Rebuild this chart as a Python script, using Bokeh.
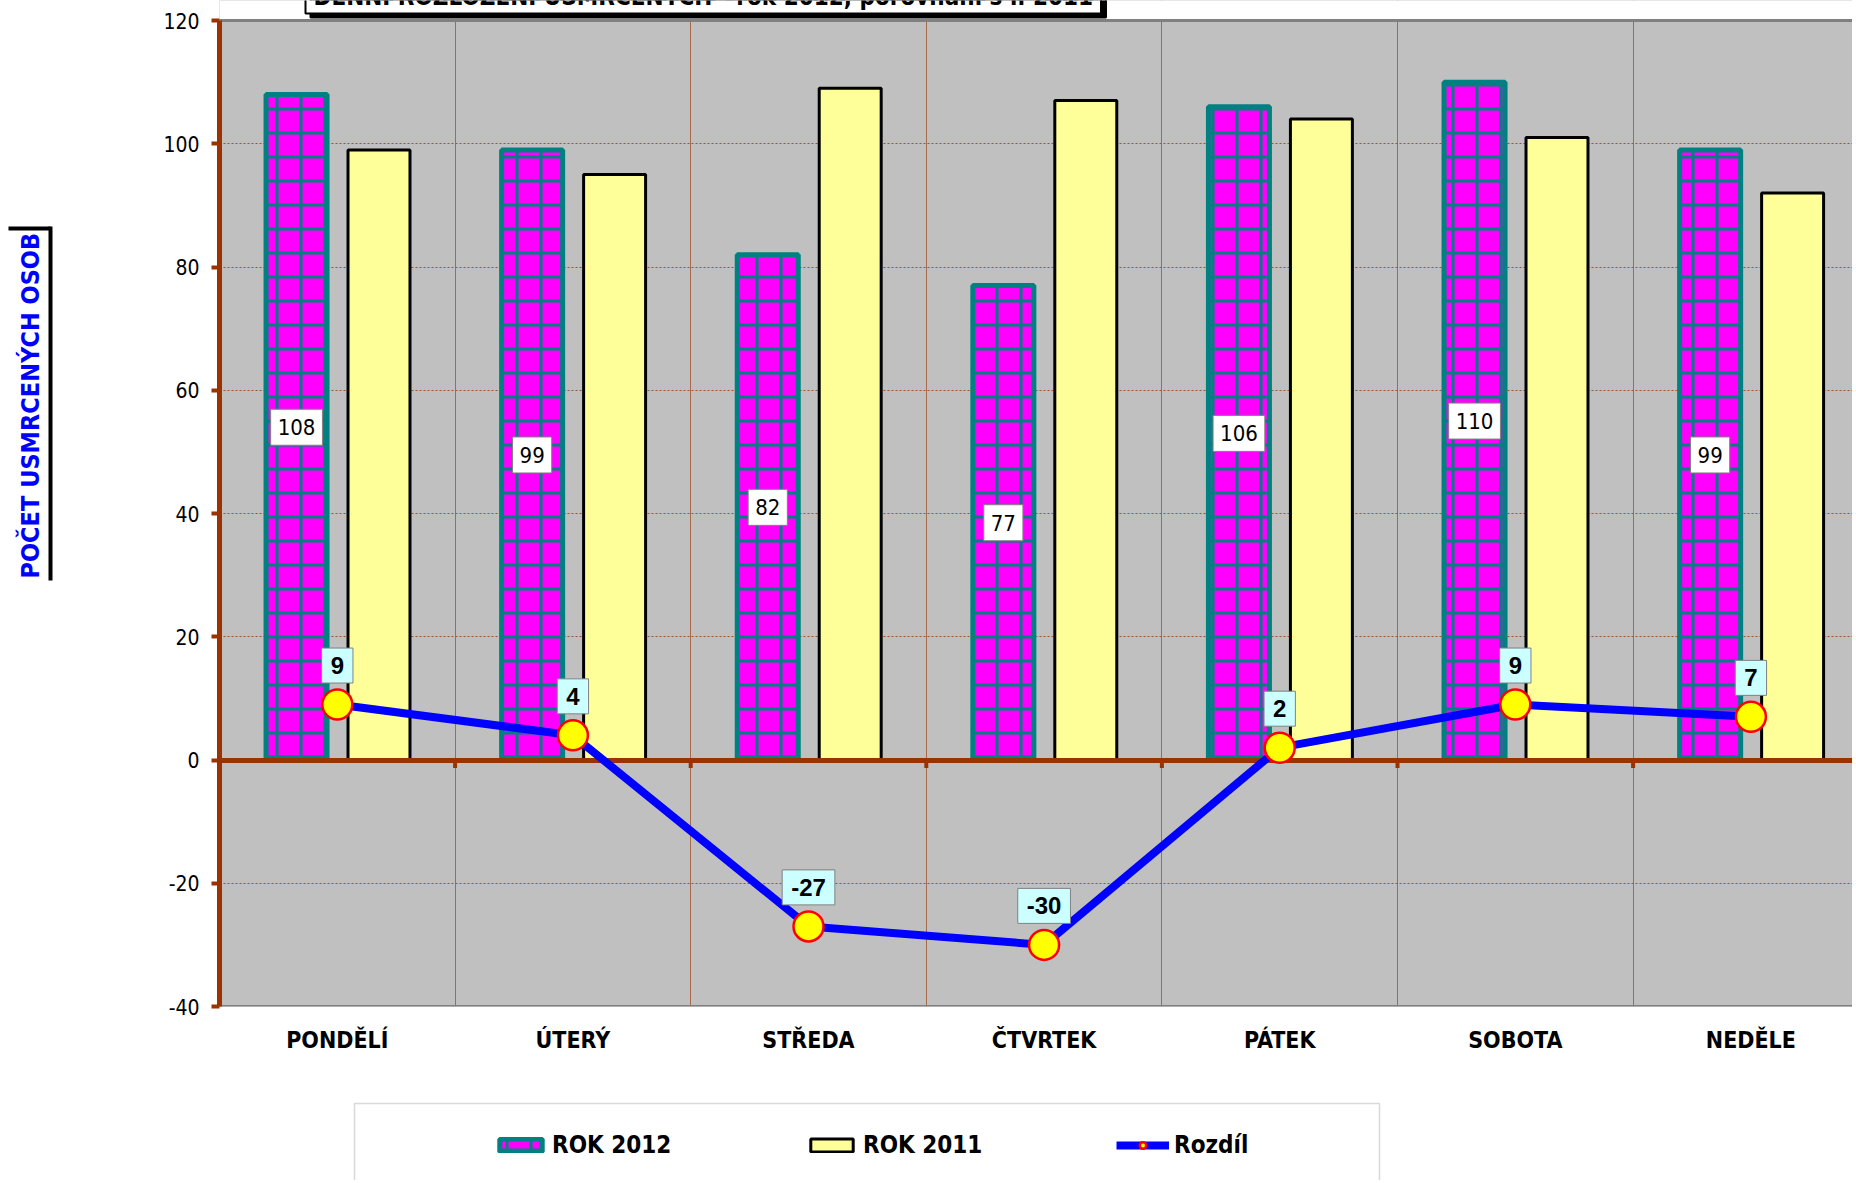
import math
from bokeh.plotting import figure
from bokeh.layouts import column
from bokeh.models import (Range1d, FixedTicker, Label, Legend, LegendItem, LinearAxis,
                          BoxAnnotation)
from bokeh.core.properties import value
from bokeh.embed import file_html
from bokeh.resources import INLINE

# ---------------- data ----------------
days = ["PONDĚLÍ", "ÚTERÝ", "STŘEDA", "ČTVRTEK", "PÁTEK", "SOBOTA", "NEDĚLE"]
rok_2012 = [108, 99, 82, 77, 106, 110, 99]
rok_2011 = [99, 95, 109, 107, 104, 101, 92]
rozdil = [9, 4, -27, -30, 2, 9, 7]
y_ticks = [-40, -20, 0, 20, 40, 60, 80, 100, 120]
title_text = "DENNÍ ROZLOŽENÍ USMRCENÝCH - rok 2012, porovnání s r. 2011"
y_title = "POČET USMRCENÝCH OSOB"
legend_labels = ["ROK 2012", "ROK 2011", "Rozdíl"]

# ---------------- layout ----------------
COND = "DejaVu Sans Condensed, DejaVu Sans, sans-serif"
ARIAL = "Liberation Sans, Arial, sans-serif"
W, H1, H2 = 1852, 1100, 80
frame_left, plot_top, frame_bottom = 219, 20, 1006
cat_px = 235.6
y_min, y_max = y_ticks[0], y_ticks[-1]
y_px = (frame_bottom - plot_top) / (y_max - y_min)
y_top = y_max + plot_top / y_px          # frame reaches the canvas top
x_end = (W - frame_left) / cat_px


def cx(px):
    return (px - frame_left) / cat_px


def cy(py):
    return y_max - (py - plot_top) / y_px


idx = list(range(len(days)))
x12 = [i + 0.327 for i in idx]
x11 = [i + 0.677 for i in idx]
xm = [i + 0.5 for i in idx]
bounds = idx[1:]

p = figure(width=W, height=H1, x_range=Range1d(0, x_end), y_range=Range1d(y_min, y_top),
           output_backend="svg", toolbar_location=None,
           min_border_left=frame_left, min_border_right=0, min_border_top=0,
           min_border_bottom=H1 - frame_bottom,
           background_fill_color="#C0C0C0", border_fill_color="white",
           outline_line_color=None)

# white strip above the plot area (the frame reaches the canvas top)
p.add_layout(BoxAnnotation(bottom=y_max, fill_color="white", fill_alpha=1,
                           line_color=None, level="underlay"))

# grids
p.xgrid.ticker = FixedTicker(ticks=bounds)
p.xgrid.bounds = (y_min, y_max)
p.xgrid.grid_line_color = "#A0522D"
p.xgrid.grid_line_alpha = 0.8
p.xgrid.grid_line_width = 1
p.ygrid.ticker = FixedTicker(ticks=y_ticks)
p.ygrid.grid_line_color = "#A0522D"
p.ygrid.grid_line_dash = "2 2"
p.ygrid.grid_line_width = 1

# y axis
ya = p.yaxis[0]
ya.ticker = FixedTicker(ticks=y_ticks)
ya.bounds = (y_min, y_max)
ya.major_label_overrides = {t: str(t) for t in y_ticks}
ya.axis_line_color = "#993300"
ya.axis_line_width = 5
ya.major_tick_line_color = "#993300"
ya.major_tick_line_width = 4
ya.major_tick_out = 8
ya.major_tick_in = 0
ya.minor_tick_line_color = None
ya.major_label_text_font = COND
ya.major_label_text_font_size = "21px"
ya.major_label_text_color = "black"
ya.major_label_standoff = 12

# blank spacer axis, then the outer axis carrying the y title and its shadow bar
spacer = LinearAxis(ticker=FixedTicker(ticks=[y_min]), major_label_overrides={y_min: ""},
                    axis_line_color=None, major_tick_line_color=None,
                    minor_tick_line_color=None, major_tick_out=110, major_tick_in=0,
                    major_label_standoff=0)
p.add_layout(spacer, "left")
shadow_tick = cy(228)
ya2 = LinearAxis(bounds=(cy(580), cy(226)), ticker=FixedTicker(ticks=[shadow_tick]),
                 major_label_overrides={shadow_tick: ""},
                 axis_line_color="black", axis_line_width=4,
                 major_tick_line_color="black", major_tick_line_width=4,
                 major_tick_out=42, major_tick_in=0, minor_tick_line_color=None,
                 major_label_standoff=0,
                 axis_label="\u00a0" * 25 + y_title, axis_label_text_color="#0000FF",
                 axis_label_text_font=COND, axis_label_text_font_style="bold",
                 axis_label_text_font_size="25px", axis_label_standoff=-36)
p.add_layout(ya2, "left")

# x axis
xa = p.xaxis[0]
xa.ticker = FixedTicker(ticks=xm)
xa.major_label_overrides = {x: d for x, d in zip(xm, days)}
xa.axis_line_color = None
xa.major_tick_line_color = None
xa.minor_tick_line_color = None
xa.major_label_text_font = COND
xa.major_label_text_font_style = "bold"
xa.major_label_text_font_size = "23px"
xa.major_label_text_color = "black"
xa.major_label_standoff = 14

# bars
bar_style12 = dict(fill_color="#FF00FF", line_color="#008080", line_width=5,
                   hatch_pattern="+", hatch_color="#008080", hatch_scale=24, hatch_weight=3)
bar_style11 = dict(fill_color="#FFFF99", line_color="black", line_width=3)
line_style = dict(line_color="#0000FF", line_width=8)
marker_style = dict(marker="circle", fill_color="#FFFF00", line_color="#FF0000", line_width=2.5)

p.vbar(x=x12, top=rok_2012, bottom=0, width=0.259, **bar_style12)
p.vbar(x=x11, top=rok_2011, bottom=0, width=0.263, **bar_style11)

# plot-area borders, zero line and its ticks
p.hspan(y=[y_max, y_min], line_color="#808080", line_width=3)
p.hspan(y=[0], line_color="#993300", line_width=5)
p.segment(x0=bounds, y0=[0] * len(bounds), x1=bounds, y1=[-1.3] * len(bounds),
          line_color="#993300", line_width=4)

# difference line
p.line(x=xm, y=rozdil, **line_style)
p.scatter(x=xm, y=rozdil, size=30, **marker_style)

# data labels
p.text(x=x12, y=[v / 2 for v in rok_2012], text=[str(v) for v in rok_2012],
       text_align="center", text_baseline="middle", text_color="black",
       text_font=value(COND), text_font_size=value("22px"),
       background_fill_color="white", border_line_color="#808080", border_line_width=1,
       padding=dict(left=7, right=7, top=10, bottom=10))
p.text(x=xm, y=rozdil, text=[str(v) for v in rozdil], y_offset=-39,
       text_align="center", text_baseline="middle", text_color="black",
       text_font=value(ARIAL), text_font_style="bold", text_font_size=value("24px"),
       background_fill_color="#CCFFFF", border_line_color="#808080", border_line_width=1,
       padding=dict(left=9, right=9, top=9, bottom=9))

# chart title (cut off at the top edge, with shadow)
for bg, dx, dy in [("black", 5, -4), ("white", 0, 0)]:
    p.add_layout(Label(x=cx(305), y=cy(13), text=title_text,
                       x_offset=dx, y_offset=dy,
                       text_align="left", text_baseline="bottom", text_color="black",
                       text_font=COND, text_font_style="bold", text_font_size="24px",
                       background_fill_color=bg, border_line_color="black",
                       border_line_width=2,
                       padding=dict(left=8, right=8, top=3, bottom=3)))

# ---------------- legend strip (second figure, frame aligned with the chart) ----------------
q = figure(width=W, height=H2, x_range=Range1d(frame_left, W), y_range=Range1d(H2, 0),
           output_backend="svg", toolbar_location=None,
           min_border_left=frame_left, min_border_right=0, min_border_top=0,
           min_border_bottom=0, x_axis_location=None, y_axis_location=None,
           background_fill_color="white", border_fill_color="white", outline_line_color=None)
q.grid.visible = False
q.add_layout(BoxAnnotation(left=354, right=1379, top=3, bottom=H2 + 20,
                           fill_color="white", fill_alpha=1,
                           line_color="#808080", line_width=1.5))
# the same series (hidden here), only to supply the legend glyphs
lb12 = q.vbar(x=x12, top=rok_2012, bottom=0, width=0.259, visible=False, **bar_style12)
lb11 = q.vbar(x=x11, top=rok_2011, bottom=0, width=0.263, visible=False, **bar_style11)
ll = q.line(x=xm, y=rozdil, visible=False, **line_style)
lm = q.scatter(x=xm, y=rozdil, size=16, visible=False, **marker_style)
legend = Legend(items=[LegendItem(label=legend_labels[0], renderers=[lb12]),
                       LegendItem(label=legend_labels[1], renderers=[lb11]),
                       LegendItem(label=legend_labels[2], renderers=[ll, lm])],
                orientation="horizontal", location=(494 - frame_left, 21), margin=0,
                padding=0, spacing=69, glyph_width=53, glyph_height=16,
                label_standoff=5, label_width=184,
                label_text_font=COND, label_text_font_style="bold",
                label_text_font_size="24px", label_text_color="black",
                inactive_fill_alpha=0,
                border_line_color=None, background_fill_alpha=0)
q.add_layout(legend, "center")

open("out.html", "w").write(file_html(column(p, q, spacing=0), INLINE))
